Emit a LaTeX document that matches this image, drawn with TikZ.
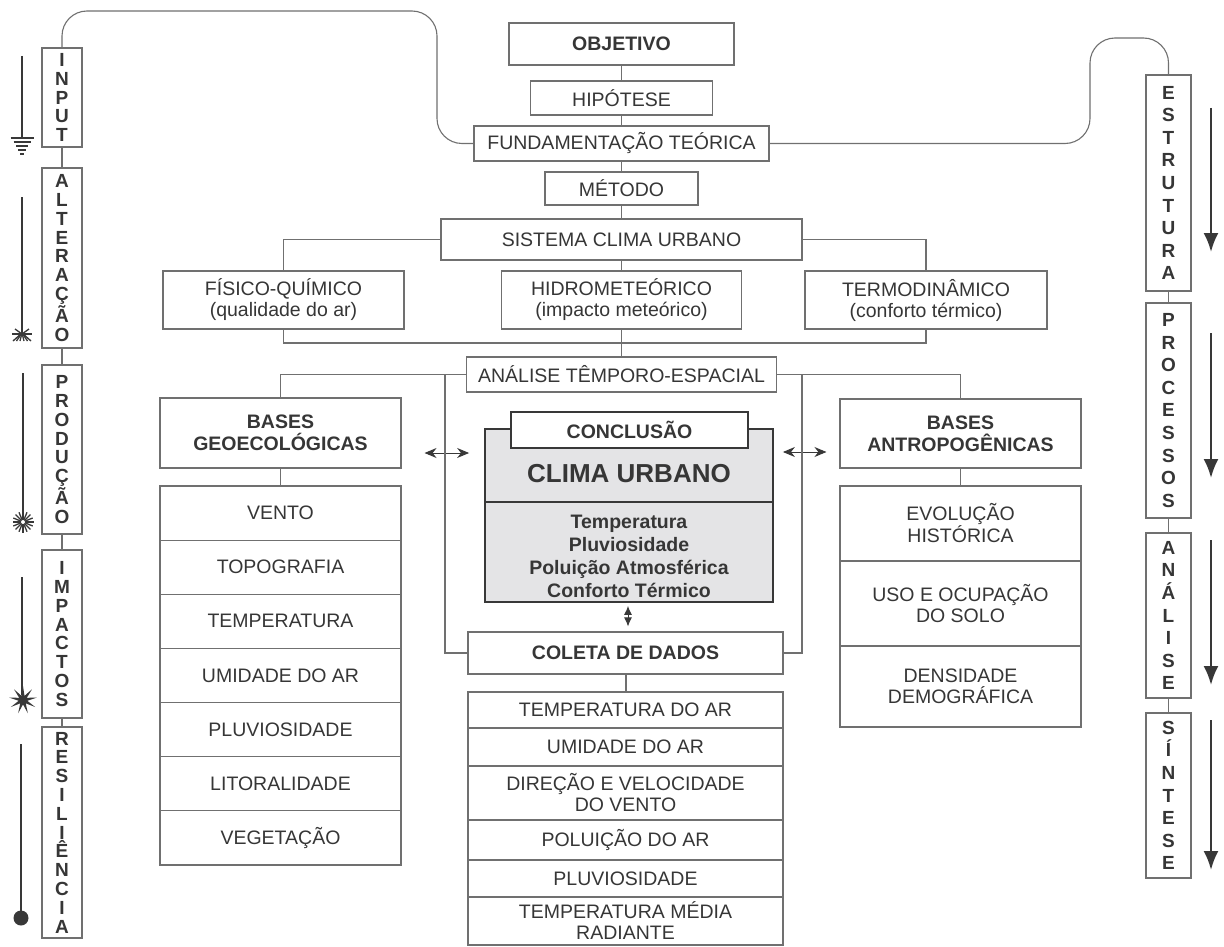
\documentclass[tikz,border=0pt]{standalone}
\usepackage{fontspec}
\setmainfont{Liberation Sans}
\usetikzlibrary{arrows.meta, shapes.geometric}

\definecolor{linha}{HTML}{707070}
\definecolor{texto}{HTML}{363636}
\definecolor{escuro}{HTML}{383838}
\definecolor{cinza}{HTML}{E4E4E6}

\tikzset{
  caixa/.style={draw=linha, line width=1.1pt, fill=white, text=texto, align=center,
    inner sep=0pt, font=\fontsize{19.5}{21}\selectfont},
  titulo/.style={caixa, font=\bfseries\fontsize{19.5}{22}\selectfont},
  coluna/.style={draw=linha, line width=1.1pt, fill=white, text=texto, align=center,
    inner sep=0pt, minimum width=40pt, font=\bfseries\fontsize{19}{18.8}\selectfont},
  colunaD/.style={coluna, minimum width=45pt, font=\bfseries\fontsize{19}{22.6}\selectfont},
  liga/.style={draw=linha, line width=1.1pt},
  dupla/.style={escuro, line width=1pt, {Stealth[length=12pt,width=10pt]}-{Stealth[length=12pt,width=10pt]}},
  fluxo/.style={escuro, line width=2.4pt, -{Latex[length=19pt,width=15pt]}},
  haste/.style={escuro, line width=2.4pt},
}

\begin{document}
\begin{tikzpicture}[x=1pt, y=-1pt]
\useasboundingbox (0,0) rectangle (1224,947);
\fill[white] (0,0) rectangle (1224,947);

% --- coluna esquerda ---
\node[coluna, minimum height=99pt] (input) at (62,97.5) {I\\N\\P\\U\\T};
\node[coluna, minimum height=180pt] (alteracao) at (62,258) {A\\L\\T\\E\\R\\A\\Ç\\Ã\\O};
\node[coluna, minimum height=169pt] (producao) at (62,449.5) {P\\R\\O\\D\\U\\Ç\\Ã\\O};
\node[coluna, minimum height=168pt] (impactos) at (62,634) {I\\M\\P\\A\\C\\T\\O\\S};
\node[coluna, minimum height=211pt] (resiliencia) at (62,832.5) {R\\E\\S\\I\\L\\I\\Ê\\N\\C\\I\\A};
\draw[liga] (input) -- (alteracao);
\draw[liga] (alteracao) -- (producao);
\draw[liga] (producao) -- (impactos);
\draw[liga] (impactos) -- (resiliencia);

% simbolos
\draw[haste] (22,56) -- (22,138);
\foreach \w [count=\k from 0] in {11.5,8.5,6,4,2}
  \draw[escuro, line width=1.7pt] ({22-\w},{138+4*\k}) -- ({22+\w},{138+4*\k});
\draw[haste] (22,197) -- (22,334);
\draw[escuro, line width=1.6pt] (12,334) -- (32,334);
\foreach \d in {-9,-5.5,-2,2,5.5,9}
  \draw[escuro, line width=1.3pt] (22,333) -- ({22+\d},341);
\foreach \d in {-7,7}
  \draw[escuro, line width=1.3pt] (22,334) -- ({22+\d},329);
\draw[haste] (23,373) -- (23,514);
\foreach \a in {0,22.5,...,337.5}
  \draw[escuro, line width=1.3pt] (23,522) ++(\a:2) -- ++(\a:8.5);
\draw[haste] (22,577) -- (22,695);
\node[star, star points=9, star point ratio=3.2, fill=escuro, inner sep=0pt, minimum size=28pt] (explosao) at (23,700) {};
\draw[haste] (21,744) -- (21,913);
\fill[escuro] (21,918) circle (7.5pt);

% --- coluna direita ---
\node[colunaD, minimum height=216pt] (estrutura) at (1168.5,183) {E\\S\\T\\R\\U\\T\\U\\R\\A};
\node[colunaD, minimum height=215pt] (processos) at (1168.5,410.5) {P\\R\\O\\C\\E\\S\\S\\O\\S};
\node[colunaD, minimum height=165pt] (analiseR) at (1168.5,615.5) {A\\N\\Á\\L\\I\\S\\E};
\node[colunaD, minimum height=165pt] (sintese) at (1168.5,795.5) {S\\Í\\N\\T\\E\\S\\E};
\draw[liga] (estrutura) -- (processos);
\draw[liga] (processos) -- (analiseR);
\draw[liga] (analiseR) -- (sintese);
\draw[fluxo] (1211,108) -- (1211,252);
\draw[fluxo] (1211,333) -- (1211,478);
\draw[fluxo] (1211,540) -- (1211,685);
\draw[fluxo] (1211,720) -- (1211,870);

% --- eixo central ---
\node[titulo, minimum width=225pt, minimum height=42pt] (objetivo) at (621.5,44) {OBJETIVO};
\node[caixa, minimum width=182pt, minimum height=34pt] (hipotese) at (621.5,98) {HIPÓTESE};
\node[caixa, minimum width=295pt, minimum height=35pt] (fundamentacao) at (621.5,143.5) {FUNDAMENTAÇÃO TEÓRICA};
\node[caixa, minimum width=153pt, minimum height=33pt] (metodo) at (621.5,188.5) {MÉTODO};
\node[caixa, minimum width=361pt, minimum height=41pt] (sistema) at (621.5,239.5) {SISTEMA CLIMA URBANO};
\node[caixa, minimum width=241pt, minimum height=58pt] (fisico) at (283.5,300) {FÍSICO-QUÍMICO\\(qualidade do ar)};
\node[caixa, minimum width=240pt, minimum height=58pt] (hidro) at (621.5,300) {HIDROMETEÓRICO\\(impacto meteórico)};
\node[caixa, minimum width=242pt, minimum height=58pt] (termo) at (926,300) {TERMODINÂMICO\\(conforto térmico)};
\node[caixa, minimum width=310pt, minimum height=35pt] (temporal) at (621.5,374.5) {ANÁLISE TÊMPORO-ESPACIAL};

\draw[liga] (objetivo) -- (hipotese);
\draw[liga] (hipotese) -- (fundamentacao);
\draw[liga] (fundamentacao) -- (metodo);
\draw[liga] (metodo) -- (sistema);
\draw[liga, rounded corners=25pt] (fundamentacao.west) -| (437,11) -| (input.north);
\draw[liga, rounded corners=25pt] (fundamentacao.east) -| (1090,38) -| (estrutura.north);
\draw[liga] (sistema.west) -| (fisico.north);
\draw[liga] (sistema.east) -| (termo.north);
\draw[liga] (sistema) -- (hidro);
\coordinate (barra) at (621.5,343);
\draw[liga] (fisico.south) |- (barra) -| (termo.south);
\draw[liga] (hidro) -- (temporal);

% --- bases ---
\node[titulo, minimum width=241pt, minimum height=70pt] (geo) at (280.5,433) {BASES\\GEOECOLÓGICAS};
\node[titulo, minimum width=241pt, minimum height=69pt] (antropo) at (960.5,433.5) {BASES\\ANTROPOGÊNICAS};
\draw[liga] (temporal.west) -| (geo.north);
\draw[liga] (temporal.east) -| (antropo.north);

\foreach \txt [count=\i] in {VENTO, TOPOGRAFIA, TEMPERATURA, UMIDADE DO AR, PLUVIOSIDADE, LITORALIDADE, VEGETAÇÃO}
  \node[caixa, minimum width=241pt, minimum height=54.14pt] (geo\i) at (280.5,{486+54.14*(\i-0.5)}) {\txt};
\draw[liga] (geo) -- (geo1);

\foreach \ini/\fim/\txt [count=\i] in {486/561/{EVOLUÇÃO\\HISTÓRICA}, 561/646/{USO E OCUPAÇÃO\\DO SOLO}, 646/727/{DENSIDADE\\DEMOGRÁFICA}}
  \node[caixa, minimum width=241pt, minimum height={(\fim-\ini)*1pt}] (antropo\i) at (960.5,{(\ini+\fim)/2}) {\txt};
\draw[liga] (antropo) -- (antropo1);

% --- conclusao ---
\node[draw=escuro, line width=1.8pt, fill=cinza, minimum width=288pt, minimum height=173pt] (clima) at (629,515.5) {};
\draw[escuro, line width=1.8pt] (clima.west |- 0,502) -- (clima.east |- 0,502);
\node[text=texto, font=\bfseries\fontsize{26}{28}\selectfont] (climatit) at (629,474) {CLIMA URBANO};
\node[text=texto, align=center, font=\bfseries\fontsize{19.5}{23}\selectfont] (climalista) at (629,556)
  {Temperatura\\Pluviosidade\\Poluição Atmosférica\\Conforto Térmico};
\node[titulo, draw=escuro, line width=1.8pt, minimum width=237pt, minimum height=36pt] (conclusao) at (629.5,430) {CONCLUSÃO};

\draw[dupla, shorten <=23pt, shorten >=15pt] (geo.east |- 0,453) -- (clima.west |- 0,453);
\draw[dupla, shorten <=9pt, shorten >=13pt] (clima.east |- 0,452) -- (antropo.west |- 0,452);

% --- coleta ---
\node[titulo, minimum width=315pt, minimum height=42pt] (coleta) at (625.5,653) {COLETA DE DADOS};
\draw[escuro, line width=1pt, shorten <=3pt, shorten >=5pt, {Latex[length=9pt,width=8pt]}-{Latex[length=9pt,width=8pt]}]
  (clima.south -| 628,0) -- (coleta.north -| 628,0);
\coordinate (ramoE) at (445,374.5);
\coordinate (ramoD) at (802,374.5);
\draw[liga] (ramoE) |- (coleta.west);
\draw[liga] (ramoD) |- (coleta.east);

\foreach \ini/\fim/\txt [count=\i] in {692/728/{TEMPERATURA DO AR}, 728/766/{UMIDADE DO AR}, 766/820/{DIREÇÃO E VELOCIDADE\\DO VENTO}, 820/860/{POLUIÇÃO DO AR}, 860/897/{PLUVIOSIDADE}, 897/945/{TEMPERATURA MÉDIA\\RADIANTE}}
  \node[caixa, minimum width=315pt, minimum height={(\fim-\ini)*1pt}] (coleta\i) at (625.5,{(\ini+\fim)/2}) {\txt};
\draw[liga] (coleta.south -| 626,0) -- (coleta1.north -| 626,0);
\end{tikzpicture}
\end{document}
